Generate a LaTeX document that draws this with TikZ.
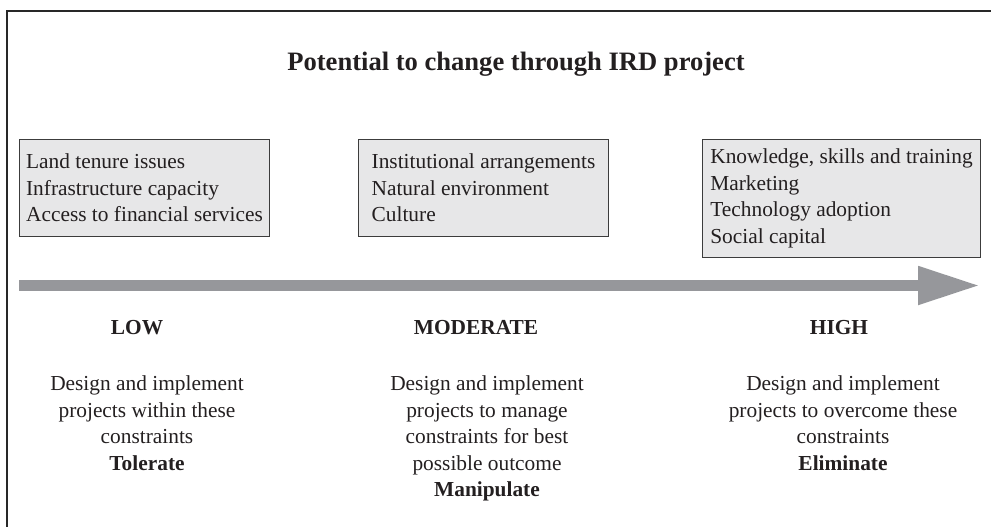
\documentclass[tikz,border=0pt]{standalone}
\usepackage{fontspec}
\setmainfont{Liberation Serif}
\usetikzlibrary{arrows.meta,positioning}
\definecolor{marco}{RGB}{40,40,40}
\definecolor{tinta}{RGB}{35,31,32}
\definecolor{gris}{RGB}{150,151,155}
\definecolor{fondo}{RGB}{231,231,232}
\definecolor{borde}{RGB}{60,60,60}
\newcommand{\cuerpo}{\fontsize{15.2}{18.9}\selectfont}
\tikzset{
  limite/.style={rectangle,draw=borde,line width=0.7pt,fill=fondo,anchor=north west,
    align=left,inner sep=0pt,minimum width=6.25cm,minimum height=2.425cm,
    font=\cuerpo,text=tinta},
  nivel/.style={font=\cuerpo\bfseries,text=tinta,inner sep=0pt},
  accion/.style={align=center,font=\cuerpo,text=tinta,inner sep=0pt},
  escala/.style={gris,line width=0.275cm,-{Triangle[length=1.55cm 0 0,width=0.9cm 0 0]}},
}

\begin{document}
\begin{tikzpicture}
  \useasboundingbox (0,0) rectangle (24.775,-13.15);
  \clip (0,0) rectangle (24.775,-13.15);
  % outer frame, only the top and left sides fall inside
  \draw[marco,line width=1.9pt] (0.175,-0.275) rectangle (26,-14);

  \node[font=\fontsize{18.9}{22}\selectfont\bfseries,text=tinta,anchor=base] (tit)
    at (12.9,-1.75) {Potential to change through IRD project};

  % constraints, grouped by how far a project can shift them
  \node[limite] (b1) at (0.475,-3.475)
    {Land tenure issues\\Infrastructure capacity\\Access to financial services};
  \node[limite] (b2) at (8.95,-3.475)
    {Institutional arrangements\\Natural environment\\Culture};
  \node[limite,minimum width=6.95cm,minimum height=2.95cm] (b3) at (17.55,-3.475)
    {Knowledge, skills and training\\Marketing\\Technology adoption\\Social capital};

  \coordinate (ini) at (0.475,-7.1375);
  \coordinate (fin) at (24.5,-7.1375);
  \draw[escala] (ini) -- (fin);

  \node[nivel] (bajo) at (3.425,-8.2) {LOW};
  \node[nivel] (medio) at (11.9,-8.2) {MODERATE};
  \node[nivel] (alto) at (20.975,-8.2) {HIGH};

  \node[accion,below=1cm of bajo,xshift=0.25cm] (a1)
    {Design and implement\\projects within these\\constraints\\\textbf{Tolerate}};
  \node[accion,below=1cm of medio,xshift=0.275cm] (a2)
    {Design and implement\\projects to manage\\constraints for best\\possible outcome\\\textbf{Manipulate}};
  \node[accion,below=1cm of alto,xshift=0.1cm] (a3)
    {Design and implement\\projects to overcome these\\constraints\\\textbf{Eliminate}};
\end{tikzpicture}
\end{document}
